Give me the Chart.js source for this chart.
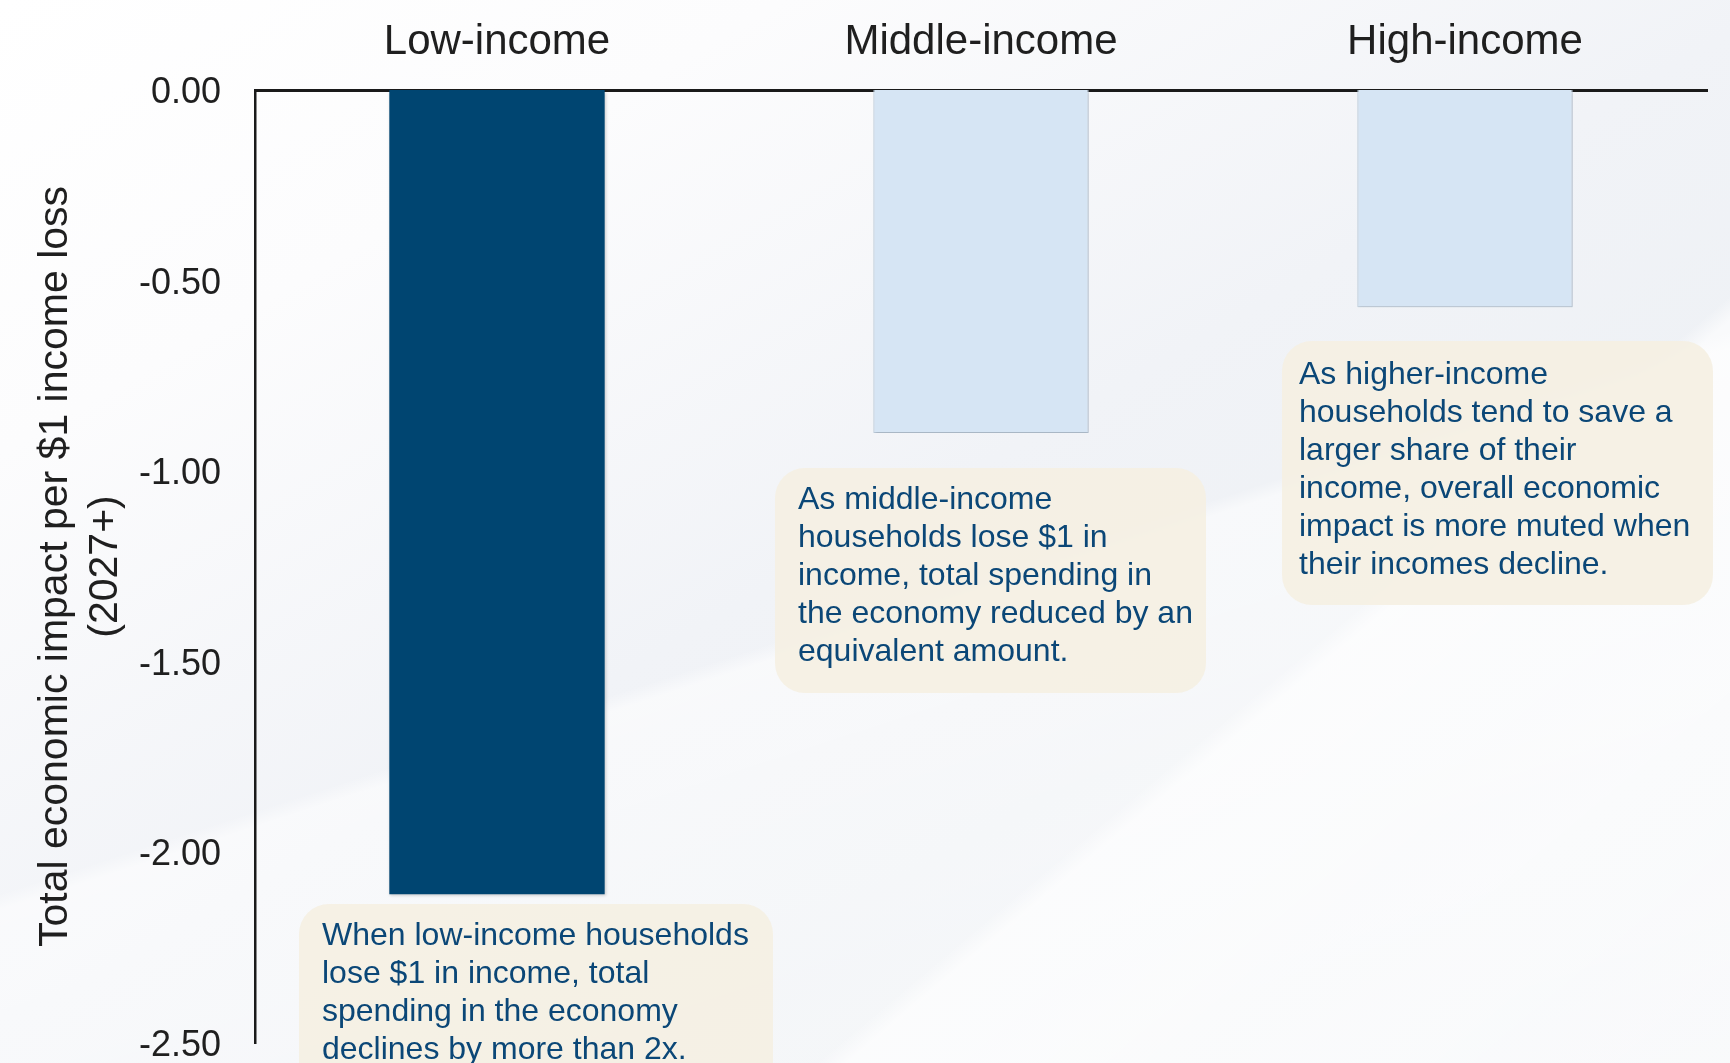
<!DOCTYPE html>
<html>
<head>
<meta charset="utf-8">
<script src="https://cdn.jsdelivr.net/npm/chart.js@4.4.1/dist/chart.umd.min.js"></script>
<style>
  html, body { margin: 0; padding: 0; overflow: hidden; }
  body {
    width: 1730px; height: 1063px; position: relative;
    font-family: 'Liberation Sans', Arial, sans-serif;
    background:
      linear-gradient(140deg, rgba(255,255,255,0) 0%, rgba(255,255,255,0) 69.5%, rgba(255,255,255,0.65) 70.5%, rgba(255,255,255,0.35) 100%),
      linear-gradient(162deg, rgba(255,255,255,0) 55%, rgba(255,255,255,0.55) 56%, rgba(255,255,255,0.2) 100%),
      linear-gradient(150deg, #ffffff 0%, #fcfcfd 22%, #f1f3f7 50%, #eef1f5 68%, #f3f5f8 100%);
  }
  #wrap { position: absolute; left: 0; top: 0; width: 1730px; height: 1063px; }
  canvas { position: absolute; left: 0; top: 0; }
  .note {
    position: absolute; box-sizing: border-box;
    background: rgba(245, 239, 226, 0.9);
    border-radius: 30px;
    color: #0b4777;
    font-family: 'Liberation Sans', Arial, sans-serif;
    font-size: 32px; line-height: 38px;
    white-space: nowrap;
  }
</style>
</head>
<body>
<div id="wrap">
  <canvas id="c" width="1730" height="1063"></canvas>
</div>
<script>
// ---- data ----
const categories = ['Low-income', 'Middle-income', 'High-income'];
const impactValues = [-2.11, -0.90, -0.57];
const yTickValues = [0.00, -0.50, -1.00, -1.50, -2.00, -2.50];
const yTitle = ['Total economic impact per $1 income loss', '(2027+)'];
const lowNote = ['When low-income households', 'lose $1 in income, total', 'spending in the economy', 'declines by more than 2x.'];
const middleNote = ['As middle-income', 'households lose $1 in', 'income, total spending in', 'the economy reduced by an', 'equivalent amount.'];
const highNote = ['As higher-income', 'households tend to save a', 'larger share of their', 'income, overall economic', 'impact is more muted when', 'their incomes decline.'];

// ---- styles ----
const barColors = ['#004571', '#d6e5f4', '#d6e5f4'];
const barBorders = ['#004571', '#c3d3e3', '#c3d3e3'];
const FONT = "'Liberation Sans', Arial, sans-serif";

const barShadow = {
  id: 'barShadow',
  beforeDatasetsDraw(chart) {
    const ctx = chart.ctx;
    ctx.save();
    ctx.shadowColor = 'rgba(0,0,0,0.18)';
    ctx.shadowBlur = 3;
    ctx.shadowOffsetX = 1;
    ctx.shadowOffsetY = 2;
  },
  afterDatasetsDraw(chart) { chart.ctx.restore(); }
};

const chart = new Chart(document.getElementById('c'), {
  type: 'bar',
  data: {
    labels: categories,
    datasets: [{
      data: impactValues,
      backgroundColor: barColors,
      borderColor: barBorders,
      borderWidth: [0, 1, 1],
      barPercentage: 0.445,
      categoryPercentage: 1.0
    }]
  },
  options: {
    responsive: false,
    animation: false,
    events: [],
    layout: { padding: { left: 0, right: 23, top: 0, bottom: 20 } },
    plugins: { legend: { display: false }, tooltip: { enabled: false } },
    scales: {
      x: {
        position: 'top',
        grid: { display: false, drawTicks: false },
        border: { display: true, color: '#1a1a1a', width: 3 },
        ticks: { color: '#1f1f1f', font: { family: FONT, size: 42 }, padding: 22 },
        afterFit(s) { s.height = 90; s.paddingLeft = 0; s.paddingRight = 0; }
      },
      y: {
        min: -2.5, max: 0,
        afterBuildTicks(s) { s.ticks = yTickValues.map(v => ({ value: v })); },
        grid: { display: false, drawTicks: false },
        border: { display: true, color: '#1a1a1a', width: 2.5 },
        ticks: {
          color: '#1f1f1f', font: { family: FONT, size: 36 }, padding: 34, labelOffset: 3,
          callback: v => Number(v).toFixed(2)
        },
        title: {
          display: true, text: yTitle, color: '#1f1f1f',
          font: { family: FONT, size: 41, lineHeight: 1.22 },
          padding: { top: 31, bottom: 0 }
        },
        afterFit(s) { s.width = 255; s.paddingTop = 0; s.paddingBottom = 0; }
      }
    }
  },
  plugins: [barShadow]
});

// ---- annotation boxes ----
function addNote(lines, left, top, width, height, padL, padT) {
  const d = document.createElement('div');
  d.className = 'note';
  d.style.left = left + 'px';
  d.style.top = top + 'px';
  d.style.width = width + 'px';
  d.style.height = height + 'px';
  d.style.paddingLeft = padL + 'px';
  d.style.paddingTop = padT + 'px';
  d.innerHTML = lines.map(t => t.replace(/&/g, '&amp;')).join('<br>');
  document.getElementById('wrap').appendChild(d);
}
addNote(lowNote, 299, 904, 474, 200, 23, 11);
addNote(middleNote, 775, 468, 431, 225, 23, 11);
addNote(highNote, 1282, 341, 431, 264, 17, 13);
</script>
</body>
</html>
